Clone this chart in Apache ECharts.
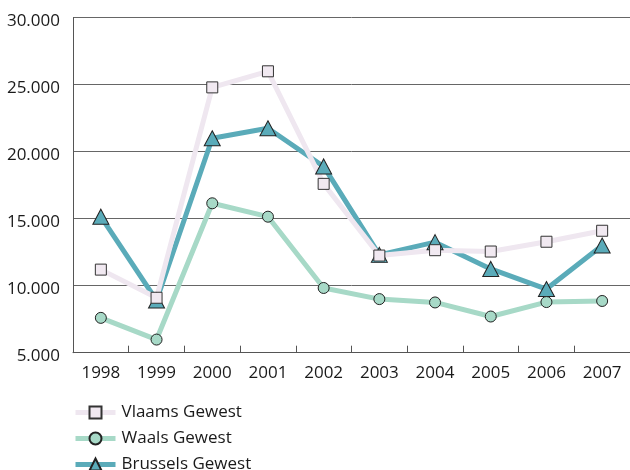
<!DOCTYPE html>
<html>
<head>
<meta charset="utf-8">
<script src="https://cdn.jsdelivr.net/npm/echarts@6/dist/echarts.min.js"></script>
<style>html,body{margin:0;padding:0;background:#fff;}#c{width:630px;height:470px;}</style>
</head>
<body>
<div id="c"></div>
<script>
const years = ['1998','1999','2000','2001','2002','2003','2004','2005','2006','2007'];
const vlaams = [11200, 9100, 24800, 26000, 17600, 12250, 12650, 12550, 13280, 14100];
const waals = [7600, 5980, 16150, 15150, 9830, 9000, 8750, 7700, 8780, 8860];
const brussels = [15150, 8900, 21000, 21750, 18900, 12300, 13250, 11250, 9750, 13000];
const seriesNames = ['Vlaams Gewest', 'Waals Gewest', 'Brussels Gewest'];

const FONT = 'Open Sans';
const chart = echarts.init(document.getElementById('c'), null, {renderer: 'canvas'});
chart.setOption({
  animation: false,
  backgroundColor: '#ffffff',
  grid: {left: 73, top: 17.7, right: -9.5, bottom: 117.3, containLabel: false},
  legend: {
    data: seriesNames,
    orient: 'vertical',
    left: 73,
    top: 404,
    height: 90,
    padding: 0,
    itemWidth: 40,
    itemHeight: 15,
    itemGap: 9,
    lineStyle: {width: 5},
    textStyle: {fontFamily: FONT, fontSize: 17, color: '#1a1a1a', padding: [0,0,0,1]}
  },
  xAxis: {
    type: 'category',
    data: years,
    boundaryGap: true,
    axisLine: {lineStyle: {color: '#555', width: 1}},
    axisTick: {show: true, inside: true, length: 7, alignWithLabel: false, lineStyle: {color: '#555'}},
    axisLabel: {fontFamily: FONT, fontSize: 17, color: '#1a1a1a', margin: 12},
    splitLine: {show: false}
  },
  yAxis: {
    type: 'value',
    min: 5000, max: 30000, interval: 5000,
    axisLine: {show: true, lineStyle: {color: '#555', width: 1}},
    axisTick: {show: false},
    axisLabel: {margin: 13,
      formatter: v => '{a|' + (v / 1000) + '.000}',
      rich: {a: {fontFamily: FONT, fontSize: 17, color: '#1a1a1a', padding: [7, 0, 0, 0]}}},
    splitLine: {lineStyle: {color: '#666', width: 1}}
  },
  series: [
    {
      name: 'Brussels Gewest', type: 'line', data: brussels,
      symbol: 'triangle', symbolSize: [16, 15],
      lineStyle: {color: '#5aabb9', width: 5},
      itemStyle: {color: '#5aabb9', borderColor: '#222', borderWidth: 1}
    },
    {
      name: 'Waals Gewest', type: 'line', data: waals,
      symbol: 'circle', symbolSize: 11,
      lineStyle: {color: '#a7d9c7', width: 5},
      itemStyle: {color: '#a7d9c7', borderColor: '#222', borderWidth: 1}
    },
    {
      name: 'Vlaams Gewest', type: 'line', data: vlaams,
      symbol: 'rect', symbolSize: 11,
      lineStyle: {color: '#efe7f0', width: 5},
      itemStyle: {color: '#f1e9f1', borderColor: '#333', borderWidth: 1}
    }
  ]
});
</script>
</body>
</html>
